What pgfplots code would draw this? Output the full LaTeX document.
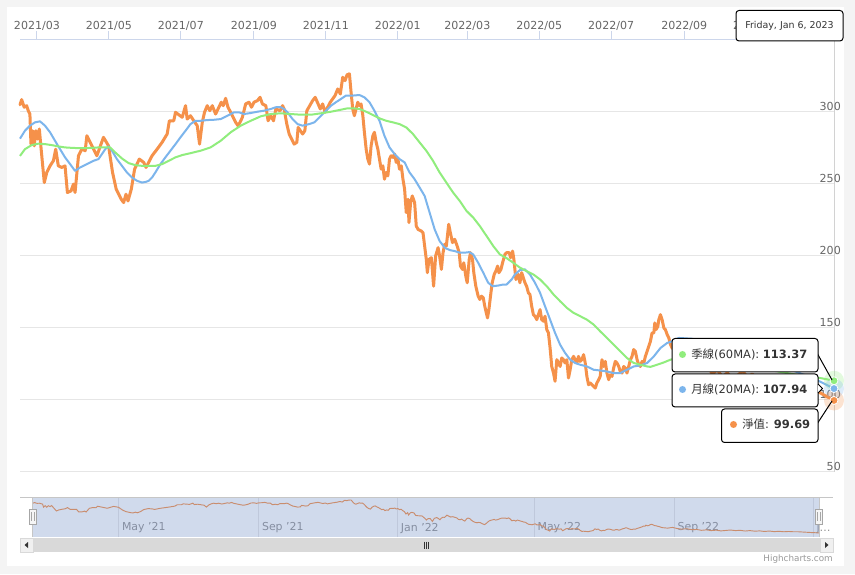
\documentclass[border=0pt]{standalone}
\usepackage{fontspec}
\setmainfont{DejaVu Sans}
\newfontfamily\cjk{Noto Sans CJK TC}
\usepackage{pgfplots}
\pgfplotsset{compat=1.18}
\usepackage{pgfplotstable}

\definecolor{cOrange}{RGB}{245,145,74}
\definecolor{cBlue}{HTML}{7CB5EC}
\definecolor{cGreen}{HTML}{90ED7D}
\definecolor{gridc}{HTML}{E6E6E6}
\definecolor{axisc}{HTML}{CCD6EB}
\definecolor{labc}{HTML}{666666}
\definecolor{bgc}{HTML}{F4F4F4}
\definecolor{navshade}{RGB}{102,133,194}
\definecolor{txtc}{HTML}{333333}

% x = days since 2021-03-01, y = NAV
\pgfplotstableread{
x y
-14.4 305.0
-13.0 308.6
-10.8 303.3
-8.8 304.4
-7.4 300.9
-6.0 298.6
-5.1 277.7
-3.7 287.0
-2.3 276.5
-0.9 287.0
0.6 281.2
2.0 288.2
3.4 275.4
6.2 251.0
8.3 258.0
11.1 262.6
13.9 266.1
15.9 274.2
18.1 262.6
21.0 261.5
23.8 262.6
25.8 244.1
28.9 245.2
30.9 249.9
32.3 244.1
35.2 269.6
38.0 274.2
40.9 273.1
42.3 283.5
46.6 276.5
50.8 269.6
56.4 282.4
60.7 276.5
64.1 258.0
67.2 246.4
71.5 239.4
73.5 237.1
75.5 242.9
77.2 238.2
80.0 246.4
82.8 260.3
86.8 267.3
90.5 265.0
92.5 261.5
97.6 269.6
101.9 274.2
106.1 278.9
110.4 284.7
112.3 293.9
116.0 293.9
117.5 299.8
123.2 296.3
126.0 304.4
127.4 295.1
130.2 297.4
133.0 293.9
135.9 290.5
137.9 277.7
140.2 292.8
142.1 299.8
144.4 304.4
146.6 300.9
148.7 304.4
151.5 298.6
154.3 303.3
156.3 306.8
158.0 304.4
160.0 309.5
162.0 303.3
164.3 299.8
168.5 292.8
170.5 290.5
172.2 292.8
174.2 296.3
177.0 305.6
179.8 306.8
181.9 303.3
184.1 306.8
187.0 307.9
189.2 310.2
191.2 305.6
194.1 304.4
196.0 293.9
198.3 297.4
200.6 293.9
202.6 302.1
206.2 300.9
208.3 304.4
209.6 302.1
211.9 291.6
213.9 284.7
218.1 277.7
220.4 278.9
221.5 289.3
225.3 284.7
227.2 287.0
228.9 300.9
233.8 307.9
236.0 310.2
240.3 302.1
242.3 305.6
244.3 299.8
248.8 306.8
252.8 311.4
255.1 316.0
257.3 312.5
259.3 324.1
261.3 321.8
263.0 325.8
265.0 326.5
266.4 313.7
267.8 302.1
269.2 297.4
270.6 302.1
272.1 306.8
273.5 304.4
274.9 305.6
276.4 297.4
277.7 285.9
279.2 274.2
280.6 267.3
282.0 263.8
283.4 276.5
284.9 283.5
286.2 285.9
287.7 278.9
289.1 274.2
290.5 267.3
291.9 260.3
293.4 262.6
294.7 253.3
296.2 258.0
297.6 255.6
299.0 267.3
300.4 269.6
301.9 268.5
303.3 270.8
304.7 265.0
306.1 267.3
307.5 260.3
309.0 262.6
310.4 253.3
311.8 246.4
313.2 230.2
314.7 239.4
315.5 223.2
316.9 237.1
318.3 241.7
320.3 237.1
321.7 220.8
323.2 218.5
326.0 217.3
327.4 216.2
328.8 206.9
330.2 197.6
331.1 188.4
332.5 197.6
334.5 198.8
336.4 179.0
338.1 200.0
340.2 205.8
341.5 200.0
343.0 190.7
344.4 202.3
345.8 208.1
347.2 206.9
349.2 222.0
350.6 216.2
352.4 209.3
354.3 211.6
356.4 206.9
358.1 202.3
359.2 193.0
360.9 190.7
362.0 195.3
363.7 186.0
364.9 181.4
366.6 197.6
367.7 202.3
369.4 197.6
370.5 188.4
372.2 179.0
374.2 172.1
375.6 169.8
377.0 172.1
378.5 171.0
379.8 165.1
382.1 157.0
383.3 162.8
385.0 174.4
386.1 181.4
387.8 187.2
389.2 189.5
390.7 193.0
391.8 188.4
393.5 190.7
394.9 195.3
396.9 201.1
398.3 202.3
400.6 202.3
401.7 198.8
403.4 203.4
404.5 197.6
406.2 183.7
408.3 187.2
409.6 181.4
411.1 188.4
412.5 184.9
413.9 181.4
415.3 179.0
416.8 174.4
418.1 173.3
419.6 165.1
421.0 159.3
422.4 158.2
423.9 155.8
425.3 159.3
426.7 162.8
428.1 155.8
429.6 154.7
430.9 158.2
432.4 148.9
433.8 146.6
435.2 136.1
436.6 123.3
438.1 118.7
439.4 113.0
440.9 128.0
442.3 125.7
443.7 123.3
445.1 129.2
446.6 128.0
447.9 125.7
449.4 128.0
450.8 115.3
452.2 121.0
453.6 128.0
455.1 130.3
456.4 128.0
457.9 125.7
459.3 130.3
460.7 126.8
462.1 128.0
463.6 131.5
465.0 125.7
466.4 116.4
467.8 110.6
469.2 111.8
470.7 110.6
472.1 109.4
473.5 108.3
474.9 111.8
476.4 114.1
477.7 116.4
479.2 128.0
480.6 123.3
482.0 126.8
483.4 118.7
484.9 114.1
486.2 117.5
487.7 116.4
489.1 122.2
490.5 126.8
491.9 125.7
493.4 123.3
494.7 119.8
496.2 118.7
497.6 123.3
499.0 122.2
500.4 118.7
501.9 123.3
503.3 128.0
504.7 130.3
506.1 135.0
507.5 133.8
509.0 128.0
510.4 124.5
511.8 123.3
513.2 126.8
514.7 125.7
516.0 130.3
517.5 133.8
518.9 137.3
520.3 140.8
521.7 146.6
523.2 146.6
524.0 153.5
525.1 148.9
526.6 151.2
527.4 155.8
528.8 159.3
530.2 155.8
531.7 150.0
533.0 148.9
534.5 145.4
535.9 143.1
537.3 138.5
538.7 136.1
543.0 133.0
547.3 138.0
551.5 130.0
555.8 126.0
560.0 129.0
564.3 122.0
568.5 124.0
572.8 118.0
577.0 121.0
581.3 116.0
585.6 119.0
589.8 114.0
594.1 117.0
598.3 120.0
602.6 116.0
606.8 118.0
611.1 113.0
615.3 116.0
619.6 112.0
623.9 114.0
628.1 110.0
632.4 113.0
636.6 109.0
640.9 111.0
645.1 108.0
649.4 110.0
653.6 108.0
657.9 108.0
662.1 106.0
666.4 104.0
670.7 102.0
674.1 101.0
676.0 99.69
}\navdata

\pgfplotstableread{
x y
-14.4 281.5
-10.2 287.0
-6.0 290.5
-1.7 292.8
2.6 293.5
6.8 290.5
11.1 285.9
15.3 280.0
19.6 274.2
23.8 268.5
28.1 263.8
32.3 259.1
36.6 261.5
42.3 263.8
47.9 266.1
52.2 267.3
55.1 270.8
57.9 274.2
60.7 276.1
63.6 273.1
67.8 267.3
72.1 262.6
76.3 258.0
80.6 254.5
84.9 252.2
89.1 251.0
92.5 251.5
94.7 252.2
97.6 254.5
100.4 258.0
104.7 263.8
108.9 268.5
113.2 273.1
117.5 277.7
121.7 282.4
126.0 287.0
130.2 291.6
134.5 293.9
138.7 293.9
144.4 294.4
150.1 294.6
155.8 295.1
161.5 297.4
167.1 299.8
171.3 299.8
175.6 298.6
181.3 299.3
187.0 300.2
192.6 300.9
198.3 302.1
202.6 303.3
206.8 303.3
209.6 302.1
212.5 299.8
216.8 295.1
221.0 291.6
225.3 290.5
230.9 291.6
235.2 292.8
238.1 295.1
240.9 297.4
245.1 300.9
249.4 304.4
253.6 306.8
257.9 309.1
262.1 311.4
267.8 311.4
273.5 311.8
277.7 310.2
282.0 306.8
286.2 300.9
290.5 293.9
294.7 283.5
299.0 275.4
303.3 270.8
307.5 267.3
311.8 265.0
316.0 258.0
320.3 253.3
324.5 247.6
328.8 241.7
333.0 230.2
337.3 218.5
341.5 210.4
345.8 205.8
350.1 204.1
354.3 203.4
358.6 202.3
362.8 202.3
366.6 202.7
370.0 201.1
374.2 195.3
378.5 188.4
382.7 181.4
386.4 179.0
391.3 179.5
395.5 180.2
398.3 180.2
402.6 183.7
405.4 187.2
409.6 190.2
413.9 190.7
418.1 187.2
422.4 181.4
426.7 174.4
430.9 165.1
435.2 155.8
439.4 146.6
443.7 138.4
447.9 132.7
452.2 128.0
456.4 125.7
460.7 124.5
466.4 123.3
472.1 121.0
477.7 120.5
483.4 119.8
489.1 118.7
494.7 118.7
500.4 121.0
506.1 123.3
511.8 124.0
517.5 125.7
523.2 130.3
528.8 136.1
534.5 139.6
538.7 140.8
544.4 143.1
555.8 142.5
572.8 138.0
589.8 133.0
606.8 127.5
623.9 124.0
640.9 120.6
653.6 116.5
664.7 112.6
676.0 107.94
}\madata

\pgfplotstableread{
x y
-14.4 269.5
-10.2 274.2
-4.5 277.0
1.1 278.0
6.8 277.7
12.5 277.0
18.1 276.1
23.8 275.4
29.5 275.1
35.2 274.9
40.9 274.9
46.6 275.1
52.2 275.4
57.9 275.4
62.1 275.4
66.4 271.9
72.1 267.7
77.7 264.5
83.4 263.1
89.1 262.6
94.7 262.6
100.4 262.6
106.1 263.8
111.7 266.1
117.5 268.5
123.2 270.1
130.2 271.4
138.7 273.1
147.2 275.4
155.8 280.0
164.3 285.9
172.8 290.5
181.3 293.9
189.8 297.0
198.3 298.6
206.8 299.1
215.3 298.6
223.8 298.1
232.4 298.1
240.9 299.1
249.4 300.2
257.9 301.6
263.6 302.6
267.8 302.6
273.5 302.1
279.2 300.2
284.9 297.9
290.5 295.6
296.2 293.9
301.9 292.8
307.5 291.6
313.2 289.3
318.9 284.7
324.5 278.9
330.2 273.1
335.9 266.1
341.5 258.0
347.2 251.0
352.9 244.1
358.6 238.2
364.3 231.3
370.0 226.7
375.6 220.8
381.3 213.9
387.0 206.9
392.6 201.1
398.3 198.5
404.0 195.3
409.6 191.9
415.3 189.5
421.0 187.2
426.7 183.7
432.4 179.0
438.1 173.3
443.7 168.6
449.4 164.0
455.1 160.5
460.7 158.2
466.4 155.8
472.1 152.4
477.7 147.7
483.4 143.1
489.1 138.4
494.7 133.8
500.4 129.2
506.1 125.7
511.8 124.5
517.5 123.3
520.3 123.0
526.0 124.5
531.7 126.1
537.3 128.0
540.2 128.5
555.8 129.0
572.8 128.0
589.8 126.0
606.8 123.0
623.9 120.5
640.9 118.0
653.6 116.2
664.7 115.2
676.0 113.37
}\qdata

\begin{document}
\begin{tikzpicture}
% pixel frame: x right, y down, origin top-left of the 855x574 image
\begin{scope}[x=0.75pt,y=-0.75pt,yshift=430.5pt]
\useasboundingbox (0,0) rectangle (855,574);
\fill[bgc] (0,0) rectangle (855,574);
\fill[white] (7,7) rectangle (844,566);
\end{scope}

% main chart
\begin{axis}[
  at={(15pt,76.5pt)}, anchor=south west,
  scale only axis, width=610.5pt, height=324pt,
  xmin=-14.4, xmax=676, ymin=50, ymax=350,
  axis x line*=top, axis y line*=right,
  x axis line style={draw=axisc, line width=0.75pt},
  y axis line style={draw=gray!35, line width=0.75pt},
  xtick={0,61,122,184,245,306,365,426,487,549,610},
  xticklabels={2021/03,2021/05,2021/07,2021/09,2021/11,2022/01,2022/03,2022/05,2022/07,2022/09,2022/11},
  x tick style={draw=axisc, line width=0.75pt},
  major tick length=6.5pt, tick align=outside,
  ytick={50,100,150,200,250,300},
  y tick style={draw=none},
  ymajorgrids, grid style={draw=gridc, line width=0.75pt},
  tick label style={font=\fontsize{8.3}{10}\selectfont, text=labc},
  /pgf/number format/assume math mode=true,
  yticklabel style={anchor=south east, inner sep=0pt, xshift=-1.2pt, yshift=1.1pt},
  xticklabel style={anchor=south, inner sep=0pt, yshift=0.6pt},
  clip=false,
]
\addplot[cOrange, line width=2.25pt, line join=round, line cap=round] table {\navdata};
\addplot[cBlue, line width=1.5pt, line join=round] table {\madata};
\addplot[cGreen, line width=1.5pt, line join=round] table {\qdata};
\addplot[only marks, mark=*, mark size=7.5pt, color=cGreen, mark options={draw opacity=0, fill opacity=0.25}] coordinates {(676,113.37)};
\addplot[only marks, mark=*, mark size=7.5pt, color=cBlue, mark options={draw opacity=0, fill opacity=0.25}] coordinates {(676,107.94)};
\addplot[only marks, mark=*, mark size=7.5pt, color=cOrange, mark options={draw opacity=0, fill opacity=0.25}] coordinates {(676,99.69)};
\addplot[only marks, mark=*, mark size=3pt, color=cGreen, mark options={draw=white, line width=0.6pt, fill=cGreen}] coordinates {(676,113.37)};
\addplot[only marks, mark=*, mark size=3pt, color=cBlue, mark options={draw=white, line width=0.6pt, fill=cBlue}] coordinates {(676,107.94)};
\addplot[only marks, mark=*, mark size=3pt, color=cOrange, mark options={draw=white, line width=0.6pt, fill=cOrange}] coordinates {(676,99.69)};
\end{axis}

% navigator
\begin{axis}[
  at={(15pt,27.75pt)}, anchor=south west,
  scale only axis, width=609.75pt, height=30pt,
  xmin=-25.8, xmax=688.3, ymin=72, ymax=347,
  axis line style={draw=none},
  ytick=\empty,
  xtick={61,184,306,426,549,671},
  xticklabels={May '21,Sep '21,Jan '22,May '22,Sep '22,J\ldots},
  tick style={draw=none},
  xmajorgrids, grid style={draw=gridc, line width=0.75pt},
  xticklabel style={anchor=south west, inner sep=0pt, xshift=2.2pt, yshift=2.6pt,
    font=\fontsize{8.2}{10}\selectfont, text=gray!85},
  clip=false,
]
\addplot[cOrange, line width=0.7pt] table {\navdata};
\fill[navshade, fill opacity=0.3] (axis cs:-14.4,72) rectangle (axis cs:676,347);
\end{axis}

% overlays in pixel coordinates
\begin{scope}[x=0.75pt,y=-0.75pt,yshift=430.5pt]
% navigator outline and handles
\draw[gray!45, line width=0.75pt] (20,497.5) -- (833,497.5);
\draw[gray!45, line width=0.75pt] (32.7,497.5) -- (32.7,537);
\draw[gray!45, line width=0.75pt] (819,497.5) -- (819,537);
\foreach \hx in {32.7,819} {
  \draw[fill=gray!8, draw=gray!70, line width=0.6pt] (\hx-3.5,509) rectangle (\hx+3.5,524);
  \draw[gray!70, line width=0.6pt] (\hx-1.2,512) -- (\hx-1.2,521) (\hx+1.2,512) -- (\hx+1.2,521);
}
% scrollbar
\fill[gray!22] (20,538) rectangle (833,552);
\fill[gray!30] (33,538) rectangle (820,552);
\draw[fill=gray!12, draw=gray!30, line width=0.6pt] (20,538) rectangle (33,552);
\draw[fill=gray!12, draw=gray!30, line width=0.6pt] (820,538) rectangle (833,552);
\fill[txtc] (24.5,545) -- (28,542) -- (28,548) -- cycle;
\fill[txtc] (828.5,545) -- (825,542) -- (825,548) -- cycle;
\draw[txtc, line width=0.6pt] (424.5,541.5) -- (424.5,548.5) (426.5,541.5) -- (426.5,548.5) (428.5,541.5) -- (428.5,548.5);
% credit
\node[anchor=east, inner sep=0pt, font=\fontsize{6.6}{8}\selectfont, text=gray!80] at (833,559) {Highcharts.com};
% header tooltip
\draw[fill=white, draw=black, line width=0.75pt, rounded corners=2.25pt] (736,10.5) rectangle (843,41);
\node[font=\fontsize{7.1}{9}\selectfont, text=txtc, inner sep=0pt] at (789.5,26) {Friday, Jan 6, 2023};
% series tooltips
\draw[black, line width=0.75pt] (817,353) -- (832,380);
\draw[black, line width=0.75pt] (817,424) -- (832,401);
\draw[fill=white, draw=black, line width=0.75pt, rounded corners=2.25pt] (672,338.5) rectangle (818,372);
\draw[fill=white, draw=black, line width=0.75pt, rounded corners=2.25pt] (672,374) rectangle (818,407);
\draw[fill=white, draw=black, line width=0.75pt, rounded corners=2.25pt] (721.5,409) rectangle (818,442.5);
\draw[black, line width=0.75pt, fill=white] (818,384) -- (822.5,388.5) -- (818,393);
\fill[cGreen] (682.5,354.5) circle (3.5);
\fill[cBlue] (682.5,389.5) circle (3.5);
\fill[cOrange] (733.5,424.5) circle (3.5);
\node[anchor=west, inner sep=0pt, font=\fontsize{8.6}{10}\selectfont, text=txtc] at (691,354.5) {{\cjk 季線}(60MA): \textbf{113.37}};
\node[anchor=west, inner sep=0pt, font=\fontsize{8.6}{10}\selectfont, text=txtc] at (691,389.5) {{\cjk 月線}(20MA): \textbf{107.94}};
\node[anchor=west, inner sep=0pt, font=\fontsize{8.6}{10}\selectfont, text=txtc] at (742,424.5) {{\cjk 淨值}: \textbf{99.69}};
\end{scope}
\end{tikzpicture}
\end{document}
